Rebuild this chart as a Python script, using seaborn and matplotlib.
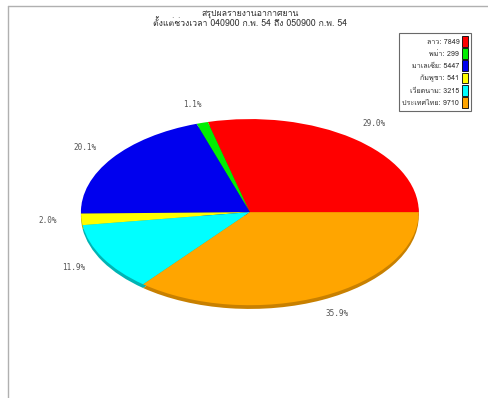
import matplotlib
matplotlib.use("Agg")
import matplotlib.pyplot as plt
from matplotlib import font_manager
from matplotlib.ft2font import FT2Font
from matplotlib.lines import Line2D
from matplotlib.patches import Patch
import seaborn as sns

# data
countries = ["ลาว", "พม่า", "มาเลเซีย", "กัมพูชา", "เวียดนาม", "ประเทศไทย"]
counts = [7849, 299, 5447, 541, 3215, 9710]
colors = ["#ff0000", "#00ee00", "#0000ee", "#ffff00", "#00ffff", "#ffa500"]
side_colors = ["#b00000", "#00a000", "#0000a0", "#b0b000", "#00b4b4", "#c88000"]
title_lines = ["สรุปผลรายงานอากาศยาน",
               "ตั้งแต่ช่วงเวลา 040900 ก.พ. 54 ถึง 050900 ก.พ. 54"]

sns.set_style("white")

# find an installed font that has Thai glyphs
thai_font = None
for f in font_manager.fontManager.ttflist:
    try:
        if 0x0E01 in FT2Font(f.fname).get_charmap():
            thai_font = f.name
            break
    except Exception:
        pass
fams = [thai_font, "DejaVu Sans"] if thai_font else ["DejaVu Sans"]
plt.rcParams["font.family"] = fams

fig = plt.figure(figsize=(4.88, 3.98), dpi=100)
ax = fig.add_axes([0.062, 0.163, 0.900, 0.608])

# side of the 3d pie (drawn first, a bit lower)
ax.pie(counts, colors=side_colors, startangle=0, center=(0, -0.04),
       wedgeprops=dict(linewidth=0))
ax.pie(counts, colors=colors, startangle=0,
       autopct="%.1f%%", pctdistance=1.2,
       textprops=dict(fontsize=5.5, color="#555555", family="DejaVu Sans Mono"),
       wedgeprops=dict(linewidth=0))
ax.set_aspect("auto")
ax.set_xlim(-1.3, 1.3)
ax.set_ylim(-1.3, 1.3)
ax.axis("off")

fig.text(0.513, 0.965, title_lines[0], ha="center", va="center", fontsize=6.3, color="#333333")
fig.text(0.513, 0.942, title_lines[1], ha="center", va="center", fontsize=6.3, color="#333333")

handles = [Patch(facecolor=c, edgecolor="black", linewidth=0.6) for c in colors]
labels = [f"{n}: {v}" for n, v in zip(countries, counts)]
leg = fig.legend(handles, labels, loc="upper right", bbox_to_anchor=(0.965, 0.918),
                 markerfirst=False, fontsize=5.2, frameon=True, fancybox=False,
                 handlelength=0.75, handleheight=1.9, handletextpad=0.4,
                 labelspacing=0.22, borderpad=0.45, borderaxespad=0)
leg.get_frame().set_edgecolor("#444444")
leg.get_frame().set_linewidth(0.8)
for t in leg.get_texts():
    t.set_color("#333333")

# grey frame lines top / left
fig.add_artist(Line2D([0.017, 1.0], [0.985, 0.985], color="#b0b0b0", lw=1))
fig.add_artist(Line2D([0.017, 0.017], [0.0, 0.985], color="#b0b0b0", lw=1))

fig.savefig("out.png", dpi=100)
